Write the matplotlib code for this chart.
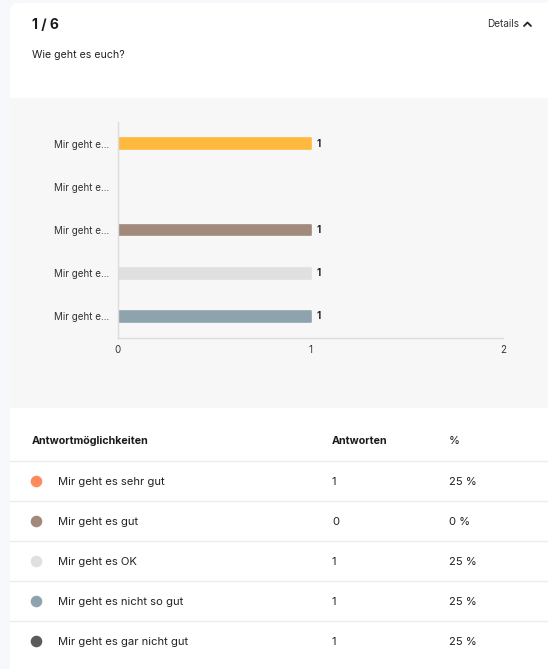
import matplotlib
matplotlib.use('agg')
import matplotlib.pyplot as plt  # noqa: E402
from matplotlib.patches import Rectangle, FancyBboxPatch, Circle  # noqa: E402

plt.rcParams['font.family'] = ['Inter', 'DejaVu Sans']

# chart data
bar_labels = ['Mir geht e...'] * 5
bar_values = [1, 0, 1, 1, 1]
bar_colors = ['#ffb93f', '#ff8a5c', '#a1897c', '#e0e0e0', '#8fa3ae']
x_ticks = [0, 1, 2]

# table data
answers = ['Mir geht es sehr gut', 'Mir geht es gut', 'Mir geht es OK',
           'Mir geht es nicht so gut', 'Mir geht es gar nicht gut']
counts = [1, 0, 1, 1, 1]
percents = ['25 %', '0 %', '25 %', '25 %', '25 %']
dot_colors = ['#ff8a5c', '#a1897c', '#e0e0e0', '#8fa3ae', '#5b5b5b']

W, H = 548, 669
fig = plt.figure(figsize=(W / 100, H / 100), dpi=100)
fig.patch.set_facecolor('#f7f8fc')

# background canvas in pixel coords (y down)
bg = fig.add_axes([0, 0, 1, 1])
bg.set_xlim(0, W)
bg.set_ylim(H, 0)
bg.axis('off')

# white card header
bg.add_patch(FancyBboxPatch((10, 3), 560, 120, boxstyle='round,pad=0,rounding_size=8',
                            fc='white', ec='none'))
# gray chart panel
bg.add_patch(Rectangle((10, 98), 540, 310, fc='#f7f7f7', ec='none'))
# white table area
bg.add_patch(Rectangle((10, 408), 540, 265, fc='white', ec='none'))

bg.text(32, 25, '1 / 6', fontsize=10, fontweight='bold', color='#1a1a1a', va='center')
bg.text(487, 24, 'Details', fontsize=7.2, color='#333333', va='center')
bg.plot([524, 527.5, 531], [26, 22.5, 26], color='#222222', lw=1.3, solid_capstyle='round')
bg.text(32, 55, 'Wie geht es euch?', fontsize=7.6, color='#222222', va='center')

# table header
fs = 8.1
bg.text(32, 441, 'Antwortmöglichkeiten', fontsize=7.7, fontweight='bold', color='#1a1a1a', va='center')
bg.text(332, 441, 'Antworten', fontsize=7.7, fontweight='bold', color='#1a1a1a', va='center')
bg.text(449, 441, '%', fontsize=fs, color='#1a1a1a', va='center')
bg.plot([10, 548], [461, 461], color='#ececec', lw=1)

for i, (a, c, p, dc) in enumerate(zip(answers, counts, percents, dot_colors)):
    yc = 481 + 40 * i
    bg.add_patch(Circle((36.5, yc + 0.5), 5.8, fc=dc, ec='none'))
    bg.text(58, yc + 1, a, fontsize=fs, color='#222222', va='center')
    bg.text(332, yc + 1, str(c), fontsize=fs, color='#222222', va='center')
    bg.text(449, yc + 1, p, fontsize=fs, color='#222222', va='center')
    if i < len(answers) - 1:
        bg.plot([10, 548], [yc + 20, yc + 20], color='#ececec', lw=1)

# bar chart
ax = fig.add_axes([118 / W, 1 - 338 / H, (503 - 118) / W, 216 / H])
ax.set_facecolor('none')
ypos = list(range(len(bar_values)))
ax.barh(ypos, bar_values, height=0.25, color=bar_colors, edgecolor=bar_colors,
        linewidth=1.2, joinstyle='round')
for y, v in zip(ypos, bar_values):
    if v:
        ax.text(v + 0.03, y, str(v), fontsize=7, fontweight='bold', color='#222222', va='center')
ax.set_xlim(0, 2)
ax.set_ylim(4.5, -0.5)
ax.set_yticks(ypos)
ax.set_yticklabels(bar_labels, fontsize=7.1, color='#333333')
ax.set_xticks(x_ticks)
ax.set_xticklabels([str(t) for t in x_ticks], fontsize=7, color='#333333')
ax.tick_params(length=0, pad=6)
ax.tick_params(axis='x', pad=5)
for s in ['top', 'right']:
    ax.spines[s].set_visible(False)
for s in ['left', 'bottom']:
    ax.spines[s].set_color('#dcdcdc')
    ax.spines[s].set_linewidth(1)

fig.savefig('out.png', dpi=100, facecolor=fig.get_facecolor())
